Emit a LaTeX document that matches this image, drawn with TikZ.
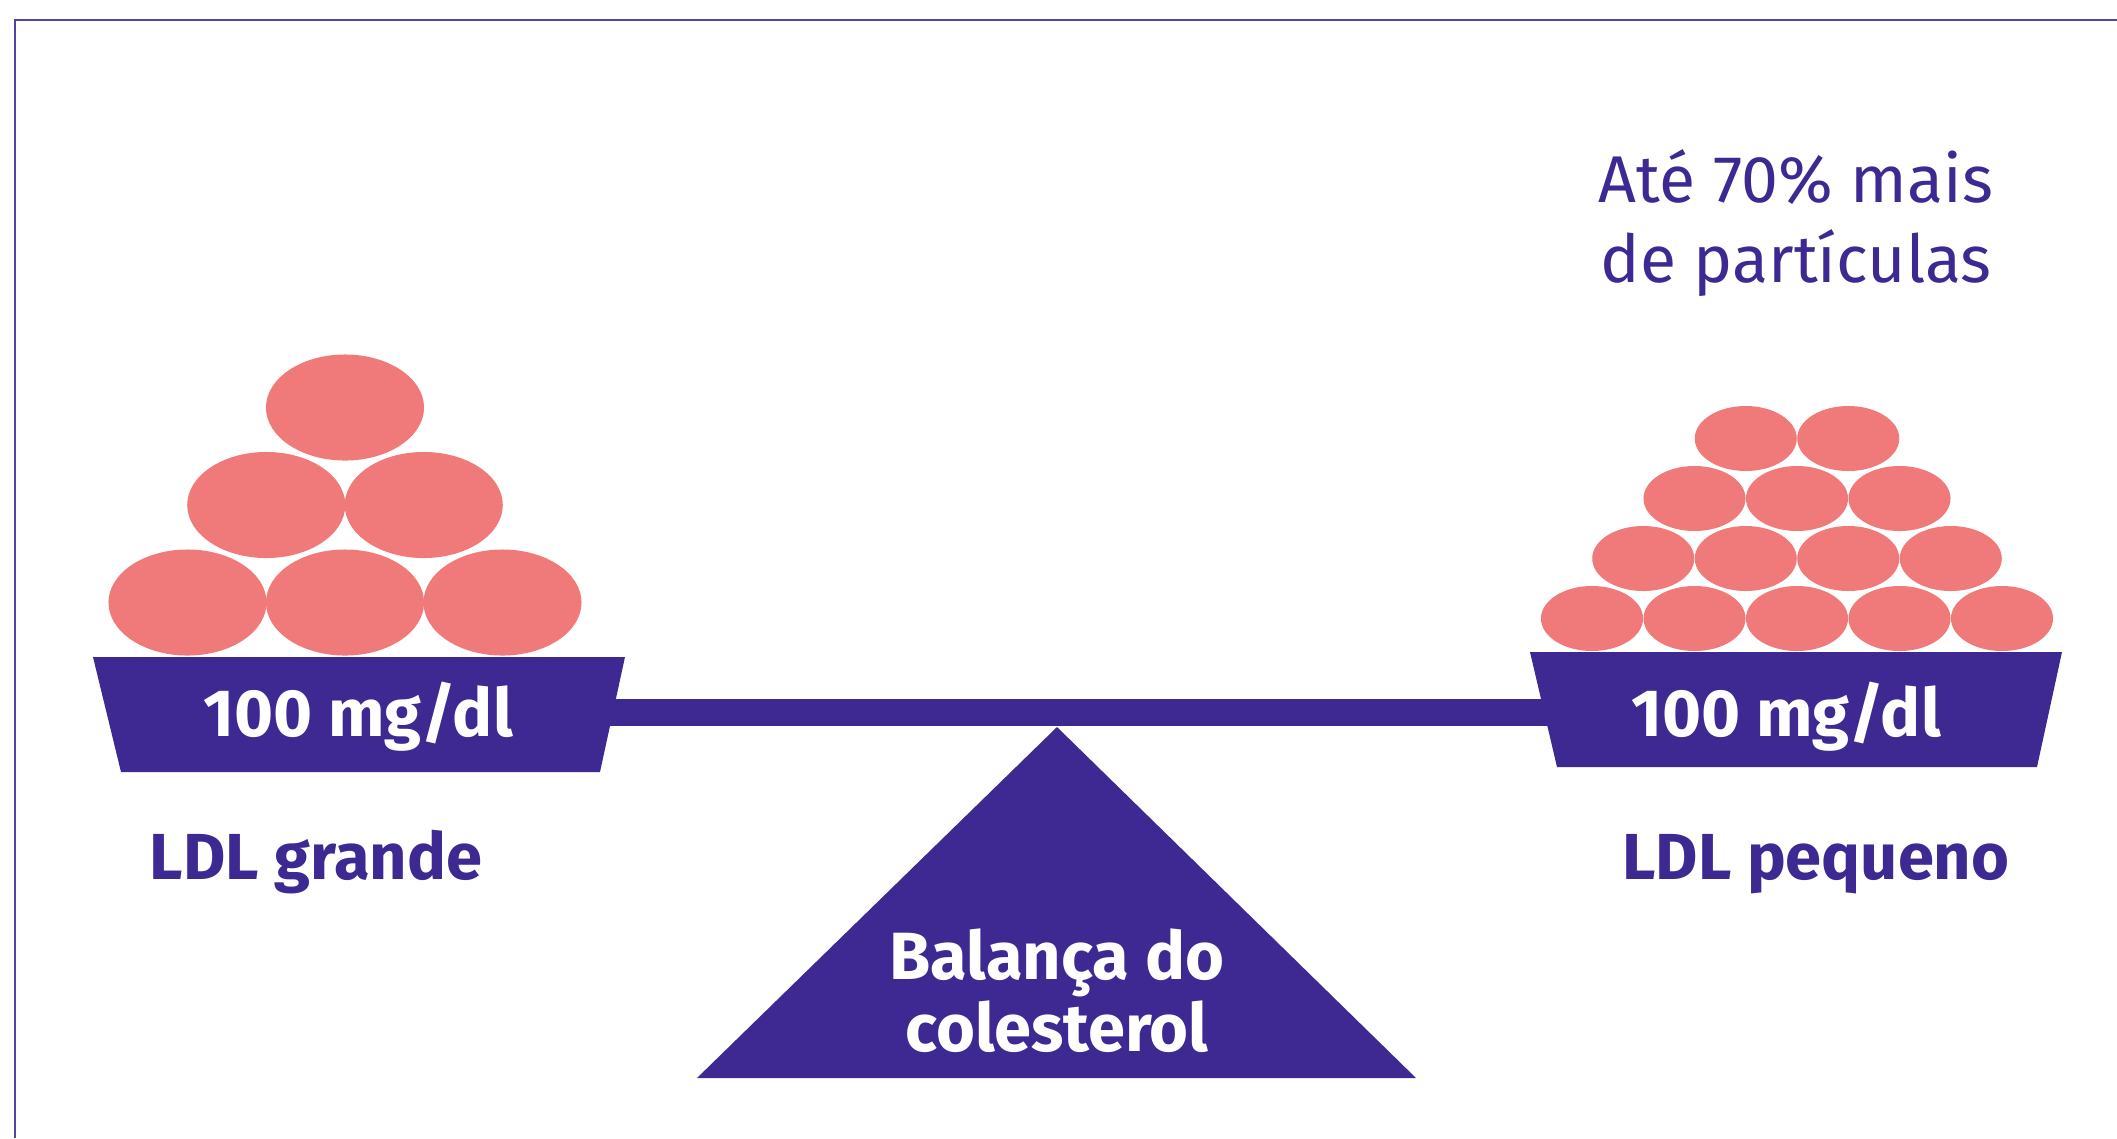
\documentclass[tikz,border=0pt]{standalone}
\usepackage{fontspec}
\setmainfont{Fira Sans}
\definecolor{purple}{HTML}{3E2891}
\definecolor{salmon}{HTML}{F07A7A}
\definecolor{rim}{HTML}{5342A8}

\begin{document}
\begin{tikzpicture}[x=0.01cm,y=-0.01cm,
 pan/.style={fill=purple},
 particle/.style={fill=salmon},
 value/.style={text=white,font=\bfseries\fontsize{19}{19}\selectfont,anchor=base,inner sep=0pt},
 caption/.style={text=purple,font=\bfseries\fontsize{18.5}{18.5}\selectfont,anchor=base,inner sep=0pt},
 note/.style={text=purple,font=\fontsize{18.8}{22.5}\selectfont,align=center,anchor=base,inner sep=0pt}]
 \useasboundingbox (0,0) rectangle (2117,1138);
 \draw[rim,line width=0.6pt] (15,1138) -- (15,20) -- (2117,20);
 % beam and fulcrum
 \fill[pan] (605,699) rectangle (1550,726);
 \fill[pan] (697,1078) -- (1057,727) -- (1416,1078) -- cycle;
 % the two pans
 \fill[pan] (93,657) -- (625,657) -- (600,772) -- (121,772) -- cycle;
 \fill[pan] (1530,652) -- (2062,652) -- (2037,767) -- (1557,767) -- cycle;
 % large particles, 3-2-1
 \foreach \r in {0,1,2}
  \foreach \k in {\r,...,2}
   \fill[particle] (187.5+157.5*\k-78.75*\r,602.5-97.5*\r) ellipse[x radius=0.79cm,y radius=0.53cm];
 % small particles, 5-4-3-2
 \foreach \r in {0,...,3}
  \foreach \k in {\r,...,4}
   \fill[particle] (1592+102.5*\k-51.25*\r,618.5-60*\r) ellipse[x radius=0.51cm,y radius=0.325cm];
 \node[value] (massleft) at (358,736) {100 mg/dl};
 \node[value] (massright) at (1786,736) {100 mg/dl};
 \node[caption] (large) at (316,879) {LDL grande};
 \node[caption] (small) at (1816,879) {LDL pequeno};
 \node[note] (more) at (1796,282) {Até 70\% mais\\de partículas};
 \node[value,align=center,font=\bfseries\fontsize{19}{19.3}\selectfont] (balance) at (1057,1051) {Balança do\\colesterol};
\end{tikzpicture}
\end{document}
